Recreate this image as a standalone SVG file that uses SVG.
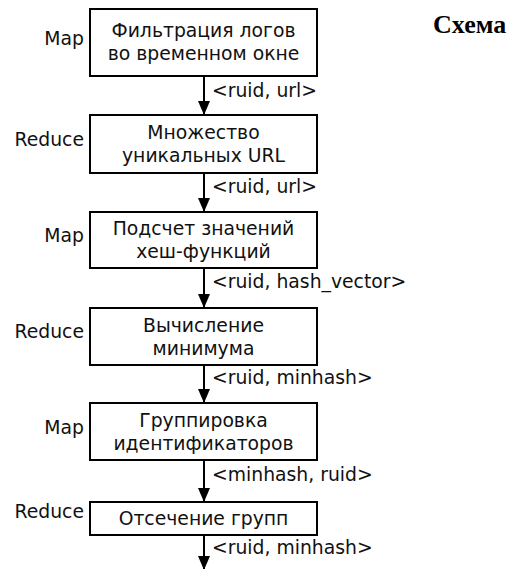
<svg xmlns="http://www.w3.org/2000/svg" width="516" height="569" viewBox="0 0 516 569">
<style>
.box{fill:#fff;stroke:#000;stroke-width:2}
.t{font-family:"DejaVu Sans",sans-serif;font-size:18.8px;fill:#111;text-anchor:middle}
.side{font-family:"DejaVu Sans",sans-serif;font-size:18.8px;fill:#111;text-anchor:end}
.lab{font-family:"DejaVu Sans",sans-serif;font-size:18.8px;fill:#111}
.edge{stroke:#000;stroke-width:2;fill:none;marker-end:url(#ah)}
.title{font-family:"Liberation Serif",serif;font-size:26px;font-weight:bold;fill:#000}
</style>
<defs>
<marker id="ah" markerWidth="14" markerHeight="12" refX="13" refY="6" orient="auto" markerUnits="userSpaceOnUse">
<path d="M0,0 L14,6 L0,12 Z" fill="#000"/>
</marker>
</defs>
<text class="title" x="433" y="33">Схема</text>
<g id="n1">
<rect class="box" x="90" y="9" width="227" height="67"/>
<text class="t" x="203.5" y="37">Фильтрация логов</text>
<text class="t" x="203.5" y="60">во временном окне</text>
<text class="side" x="84" y="45">Map</text>
</g>
<g id="n2">
<rect class="box" x="90" y="115" width="227" height="58"/>
<text class="t" x="203.5" y="139">Множество</text>
<text class="t" x="203.5" y="162">уникальных URL</text>
<text class="side" x="84" y="145.5">Reduce</text>
</g>
<g id="n3">
<rect class="box" x="90" y="212" width="227" height="56"/>
<text class="t" x="203.5" y="235">Подсчет значений</text>
<text class="t" x="203.5" y="258">хеш-функций</text>
<text class="side" x="84" y="241.5">Map</text>
</g>
<g id="n4">
<rect class="box" x="90" y="308" width="227" height="57"/>
<text class="t" x="203.5" y="331.5">Вычисление</text>
<text class="t" x="203.5" y="354.5">минимума</text>
<text class="side" x="84" y="337.5">Reduce</text>
</g>
<g id="n5">
<rect class="box" x="90" y="403" width="227" height="57"/>
<text class="t" x="203.5" y="426.5">Группировка</text>
<text class="t" x="203.5" y="449.5">идентификаторов</text>
<text class="side" x="84" y="433.5">Map</text>
</g>
<g id="n6">
<rect class="box" x="90" y="502" width="227" height="33"/>
<text class="t" x="203.5" y="525">Отсечение групп</text>
<text class="side" x="84" y="518">Reduce</text>
</g>
<g id="edges">
<line class="edge" x1="204" y1="76" x2="204" y2="114"/>
<line class="edge" x1="204" y1="173" x2="204" y2="211"/>
<line class="edge" x1="204" y1="268" x2="204" y2="307"/>
<line class="edge" x1="204" y1="365" x2="204" y2="402"/>
<line class="edge" x1="204" y1="460" x2="204" y2="501"/>
<line class="edge" x1="204" y1="535" x2="204" y2="569"/>
<text class="lab" x="212" y="97">&lt;ruid, url&gt;</text>
<text class="lab" x="212" y="193">&lt;ruid, url&gt;</text>
<text class="lab" x="212" y="288">&lt;ruid, hash_vector&gt;</text>
<text class="lab" x="212" y="384">&lt;ruid, minhash&gt;</text>
<text class="lab" x="212" y="481">&lt;minhash, ruid&gt;</text>
<text class="lab" x="212" y="554">&lt;ruid, minhash&gt;</text>
</g>
</svg>
